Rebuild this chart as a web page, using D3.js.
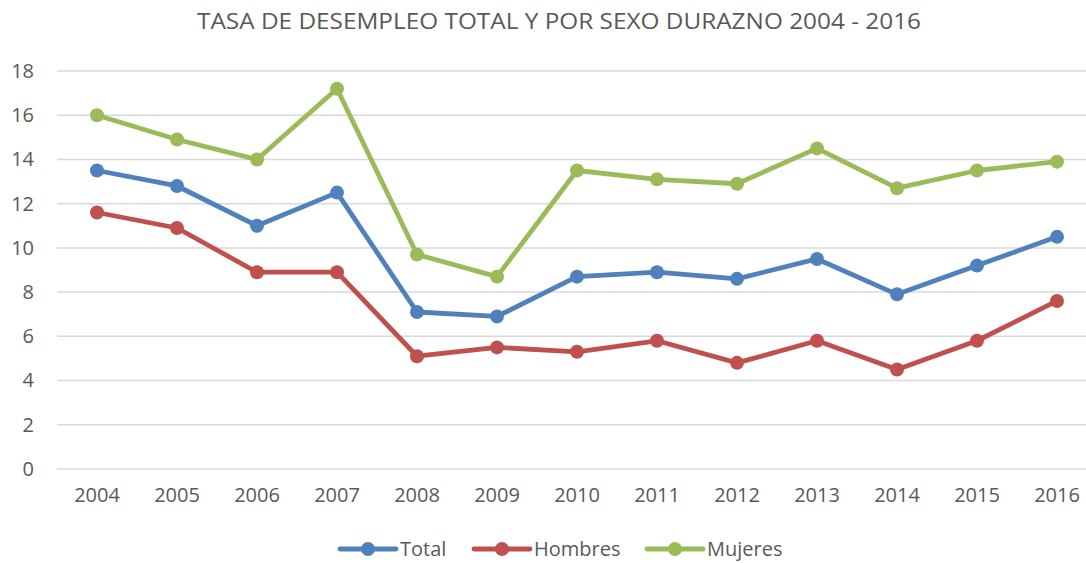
<!DOCTYPE html>
<html>
<head>
<meta charset="utf-8">
<script src="https://cdn.jsdelivr.net/npm/d3@7"></script>
<style>
  html, body { margin: 0; padding: 0; background: #fff; }
  svg { display: block; }
  text { font-family: "Open Sans", sans-serif; fill: #595959; }
</style>
</head>
<body>
<svg id="chart" width="1086" height="563"></svg>
<script>
const years = ["2004","2005","2006","2007","2008","2009","2010","2011","2012","2013","2014","2015","2016"];
const total   = [13.5, 12.8, 11.0, 12.5, 7.1, 6.9, 8.7, 8.9, 8.6, 9.5, 7.9, 9.2, 10.5];
const hombres = [11.6, 10.9, 8.9, 8.9, 5.1, 5.5, 5.3, 5.8, 4.8, 5.8, 4.5, 5.8, 7.6];
const mujeres = [16.0, 14.9, 14.0, 17.2, 9.7, 8.7, 13.5, 13.1, 12.9, 14.5, 12.7, 13.5, 13.9];
const yTicks = [0, 2, 4, 6, 8, 10, 12, 14, 16, 18];
const seriesNames = ["Total", "Hombres", "Mujeres"];
const seriesColors = ["#4F81BD", "#C0504D", "#9BBB59"];
const title = "TASA DE DESEMPLEO TOTAL Y POR SEXO DURAZNO 2004 - 2016";

const svg = d3.select("#chart");
const plot = { left: 57, right: 1097, top: 71, bottom: 469 };

const x = d3.scaleBand().domain(years).range([plot.left, plot.right]);
const y = d3.scaleLinear().domain([0, 18]).range([plot.bottom, plot.top]);

// Title
svg.append("text")
  .attr("x", 197).attr("y", 29)
  .attr("font-size", 21)
  .attr("textLength", 724)
  .attr("lengthAdjust", "spacingAndGlyphs")
  .text(title);

// Gridlines
svg.append("g").selectAll("line").data(yTicks).join("line")
  .attr("x1", plot.left).attr("x2", plot.right)
  .attr("y1", d => y(d)).attr("y2", d => y(d))
  .attr("stroke", "#d9d9d9").attr("stroke-width", 1.5);

// Y axis
const yAxis = svg.append("g")
  .attr("transform", `translate(${plot.left},0)`)
  .call(d3.axisLeft(y).tickValues(yTicks).tickSize(0).tickPadding(23).tickFormat(d3.format("d")));
yAxis.select(".domain").remove();
yAxis.selectAll("text").attr("font-size", 20).attr("fill", "#595959")
  .attr("font-family", "Open Sans, sans-serif");

// X axis
const xAxis = svg.append("g")
  .attr("transform", `translate(0,${plot.bottom})`)
  .call(d3.axisBottom(x).tickSize(0).tickPadding(19));
xAxis.select(".domain").remove();
xAxis.selectAll("text").attr("font-size", 20).attr("fill", "#595959")
  .attr("font-family", "Open Sans, sans-serif");

// Series
const data = [total, hombres, mujeres];
const line = d3.line()
  .x((d, i) => x(years[i]) + x.bandwidth() / 2)
  .y(d => y(d));

data.forEach((vals, si) => {
  const g = svg.append("g");
  g.append("path").datum(vals)
    .attr("d", line)
    .attr("fill", "none")
    .attr("stroke", seriesColors[si])
    .attr("stroke-width", 4.8)
    .attr("stroke-linejoin", "round")
    .attr("stroke-linecap", "round");
  g.selectAll("circle").data(vals).join("circle")
    .attr("cx", (d, i) => x(years[i]) + x.bandwidth() / 2)
    .attr("cy", d => y(d))
    .attr("r", 7)
    .attr("fill", seriesColors[si]);
});

// Legend
const legendX = [340, 474, 647];
const legendY = 549;
const leg = svg.append("g");
seriesNames.forEach((name, i) => {
  const lx = legendX[i];
  leg.append("line")
    .attr("x1", lx).attr("x2", lx + 56)
    .attr("y1", legendY).attr("y2", legendY)
    .attr("stroke", seriesColors[i]).attr("stroke-width", 4.8)
    .attr("stroke-linecap", "round");
  leg.append("circle")
    .attr("cx", lx + 28).attr("cy", legendY).attr("r", 7)
    .attr("fill", seriesColors[i]);
  leg.append("text")
    .attr("x", lx + 60).attr("y", legendY + 7)
    .attr("font-size", 20)
    .text(name);
});
</script>
</body>
</html>
